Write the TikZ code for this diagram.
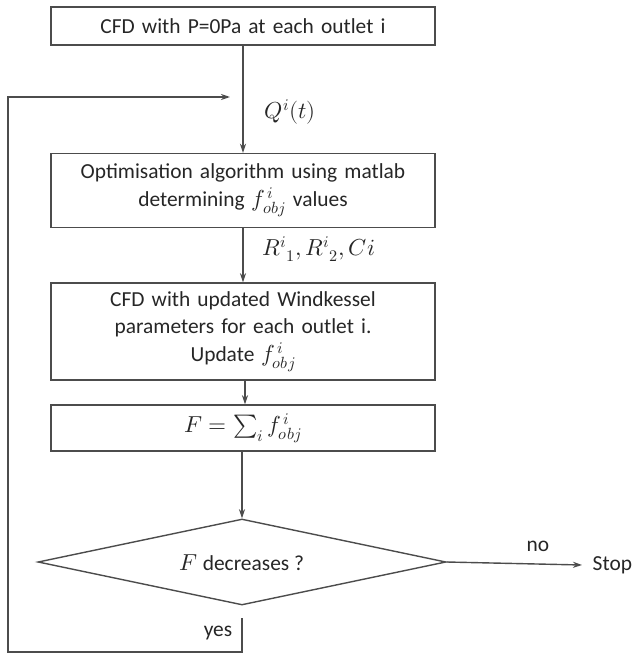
\documentclass[tikz,border=0pt]{standalone}
\usepackage{fontspec}
\usepackage{unicode-math}
\setmainfont{Carlito}
\setmathfont{Latin Modern Math}[Scale=1.08]
\usetikzlibrary{shapes.geometric,arrows.meta}
\begin{document}
\begin{tikzpicture}[x=1bp,y=-1bp,
  font=\fontsize{21.5}{28}\selectfont,
  line width=1.4bp,
  every node/.style={text=black!85},
  stepbox/.style={draw=black!70, minimum width=384bp, inner sep=0pt, align=center, text width=376bp},
  conn/.style={draw=black!70, -{Stealth[length=9bp,width=6bp]}},
  lbl/.style={inner sep=0pt}]
\useasboundingbox (0,0) rectangle (636,655);
\node[stepbox, minimum height=38bp] (b1) at (243,26) {CFD with P=0Pa at each outlet i};
\node[stepbox, minimum height=74bp] (b2) at (243,190.5) {Optimisation algorithm using matlab\\determining $f^{\,i}_{obj}$ values};
\node[stepbox, minimum height=97bp] (b3) at (243,331.5) {CFD with updated Windkessel\\parameters for each outlet i.\\Update $f^{\,i}_{obj}$};
\node[stepbox, minimum height=46bp] (b4) at (243,428) {\mbox{$F=\sum_i f^{\,i}_{obj}$}};
\node[draw=black!70, diamond, minimum width=408bp, minimum height=86bp, inner sep=0pt, aspect=4.74] (d) at (242,562) {};
\node[lbl] (dt) at (242,563) {$F$ decreases ?};
\node[lbl, anchor=west] (stop) at (592,565) {Stop};
\node[lbl] (no) at (538,546) {no};
\node[lbl] (yes) at (218,633) {yes};
\node[lbl, anchor=west] (q) at (264,112) {$Q^i(t)$};
\node[lbl, anchor=west] (r) at (262,249) {$R^i{}_1, R^i{}_2, Ci$};
\coordinate (ys) at (242,618);
\coordinate (yb) at (242,652);
\coordinate (yl) at (8,652);
\coordinate (yt) at (8,97);
\coordinate (ye) at (230,97);
\coordinate (se) at (582,565);
\draw[conn] (b1.south) -- (b2.north);
\draw[conn] (b2.south) -- (b3.north);
\draw[conn] ([xshift=2bp]b3.south) -- ([xshift=2bp]b4.north);
\draw[conn] (b4.south -| d.north) -- (d.north);
\draw[conn] (d.east) -- (se);
\draw[conn] (ys) -- (yb) -- (yl) -- (yt) -- (ye);
\end{tikzpicture}
\end{document}
